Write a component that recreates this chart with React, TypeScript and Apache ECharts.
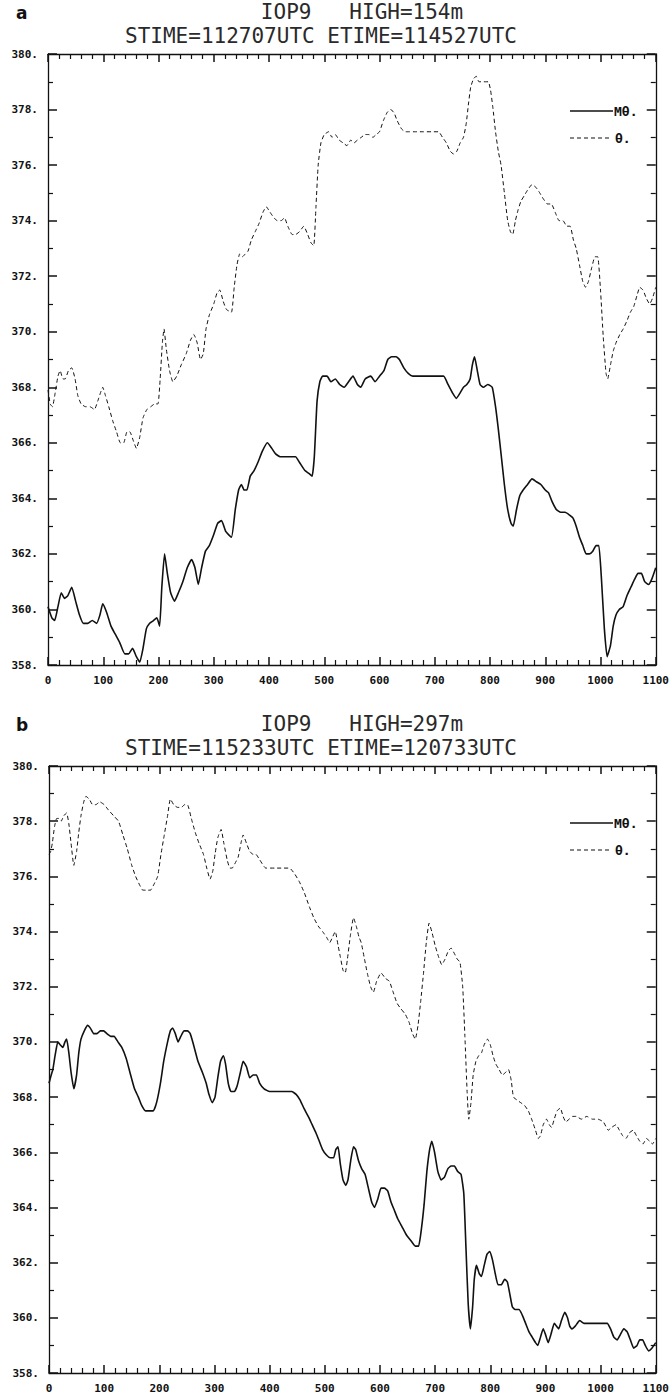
import React, { useEffect, useRef } from "react";
import * as echarts from "echarts";

// Panel a: IOP9 HIGH=154m
const titleA1 = "IOP9   HIGH=154m";
const titleA2 = "STIME=112707UTC ETIME=114527UTC";
// Panel b: IOP9 HIGH=297m
const titleB1 = "IOP9   HIGH=297m";
const titleB2 = "STIME=115233UTC ETIME=120733UTC";

const legendNames = ["Mθ.", "θ."];

const A_M: [number, number][] = [
  [0,360.1],[7,359.7],[12,359.6],[18,360.1],[24,360.6],[30,360.4],[36,360.5],[43,360.8],[50,360.3],[57,359.8],[64,359.5],[72,359.5],[80,359.6],[88,359.5],[94,359.8],[99,360.2],[106,359.9],[114,359.4],[122,359.1],[130,358.8],[139,358.4],[146,358.4],[153,358.6],[160,358.3],[166,358.1],[172,358.6],[178,359.3],[184,359.5],[191,359.6],[197,359.7],[202,359.4],[206,360.8],[211,362.0],[216,361.3],[222,360.6],[229,360.3],[236,360.6],[244,361.0],[252,361.5],[260,361.8],[266,361.5],[272,360.9],[278,361.5],[285,362.1],[292,362.3],[300,362.7],[307,363.1],[314,363.2],[322,362.8],[332,362.6],[339,363.6],[345,364.3],[350,364.5],[355,364.3],[360,364.3],[366,364.8],[373,365.0],[380,365.3],[388,365.7],[397,366.0],[405,365.8],[412,365.6],[420,365.5],[435,365.5],[448,365.5],[455,365.3],[465,365.0],[472,364.9],[478,364.8],[482,365.5],[487,367.5],[492,368.2],[497,368.4],[505,368.4],[512,368.2],[520,368.3],[528,368.1],[536,368.0],[544,368.2],[552,368.4],[560,368.1],[566,368.0],[574,368.3],[584,368.4],[592,368.2],[600,368.4],[608,368.6],[615,369.0],[622,369.1],[630,369.1],[636,369.0],[644,368.7],[652,368.5],[660,368.4],[680,368.4],[700,368.4],[716,368.4],[724,368.1],[732,367.8],[739,367.6],[746,367.8],[752,368.0],[758,368.1],[764,368.3],[768,368.8],[772,369.1],[777,368.6],[782,368.1],[788,368.0],[796,368.1],[804,368.0],[810,367.3],[815,366.5],[820,365.6],[826,364.5],[832,363.6],[838,363.1],[842,363.0],[848,363.6],[854,364.1],[860,364.3],[868,364.5],[876,364.7],[884,364.6],[892,364.5],[900,364.3],[906,364.2],[912,363.9],[920,363.6],[928,363.5],[936,363.5],[944,363.4],[950,363.3],[956,363.0],[962,362.6],[968,362.3],[974,362.0],[980,362.0],[986,362.1],[992,362.3],[997,362.3],[1002,361.0],[1007,359.3],[1012,358.3],[1018,358.7],[1023,359.4],[1028,359.8],[1034,360.0],[1041,360.1],[1048,360.5],[1055,360.8],[1062,361.1],[1068,361.3],[1074,361.3],[1080,361.0],[1087,360.9],[1093,361.1],[1100,361.5]
];

const A_T: [number, number][] = [
  [0,367.9],[4,367.4],[8,367.3],[13,367.8],[18,368.4],[22,368.6],[27,368.3],[31,368.3],[37,368.6],[43,368.7],[49,368.3],[54,367.7],[60,367.4],[68,367.3],[76,367.3],[84,367.2],[90,367.5],[95,367.8],[99,368.0],[104,367.7],[110,367.3],[117,366.8],[124,366.4],[131,366.0],[137,366.0],[143,366.4],[148,366.4],[154,366.1],[160,365.8],[166,366.2],[172,366.9],[179,367.2],[186,367.3],[193,367.4],[199,367.4],[203,368.3],[207,369.6],[210,370.1],[214,369.4],[220,368.6],[226,368.2],[233,368.4],[241,368.8],[250,369.2],[258,369.7],[264,369.9],[270,369.6],[276,369.0],[281,369.2],[286,370.1],[292,370.6],[300,371.0],[306,371.4],[311,371.5],[317,371.1],[323,370.8],[332,370.7],[337,371.6],[342,372.4],[347,372.8],[352,372.7],[357,372.8],[362,372.9],[368,373.3],[375,373.6],[382,373.9],[389,374.3],[395,374.5],[402,374.3],[409,374.1],[415,374.0],[422,374.0],[428,374.1],[434,373.8],[442,373.5],[448,373.5],[455,373.6],[463,373.8],[470,373.5],[476,373.2],[481,373.1],[485,374.5],[489,376.0],[494,376.8],[500,377.1],[508,377.2],[514,377.0],[520,377.1],[527,376.9],[534,376.8],[541,376.7],[548,376.9],[554,376.8],[560,376.9],[567,377.0],[574,377.1],[581,377.1],[588,377.0],[594,377.1],[600,377.2],[607,377.6],[614,377.9],[620,378.0],[626,377.9],[632,377.6],[640,377.3],[647,377.2],[653,377.2],[665,377.2],[680,377.2],[695,377.2],[707,377.2],[714,377.0],[721,376.8],[728,376.5],[734,376.4],[740,376.5],[746,376.8],[752,377.0],[757,377.5],[761,378.2],[765,378.8],[770,379.1],[775,379.2],[780,379.0],[786,379.0],[792,379.0],[797,379.0],[801,378.7],[805,378.1],[810,377.2],[815,376.5],[820,376.0],[826,375.0],[832,374.0],[837,373.6],[841,373.5],[846,374.0],[851,374.4],[856,374.7],[862,374.9],[868,375.1],[876,375.3],[883,375.2],[890,375.0],[896,374.8],[904,374.6],[911,374.6],[918,374.3],[925,374.0],[932,374.0],[939,373.8],[945,373.8],[951,373.3],[956,373.0],[962,372.4],[968,371.8],[973,371.6],[978,371.8],[984,372.3],[990,372.7],[995,372.7],[1000,371.5],[1005,369.8],[1010,368.5],[1013,368.3],[1018,368.8],[1023,369.3],[1028,369.6],[1035,369.9],[1041,370.1],[1048,370.4],[1054,370.7],[1060,370.9],[1066,371.3],[1071,371.6],[1077,371.5],[1083,371.2],[1089,371.0],[1094,371.2],[1100,371.6]
];

const B_M: [number, number][] = [
  [0,368.5],[4,368.8],[7,369.0],[11,369.5],[16,370.0],[20,369.9],[25,369.8],[29,370.0],[32,370.1],[36,369.6],[40,368.9],[45,368.3],[50,368.8],[54,369.6],[58,370.1],[64,370.4],[70,370.6],[75,370.5],[81,370.3],[87,370.3],[93,370.4],[99,370.4],[105,370.3],[112,370.2],[118,370.2],[125,370.0],[132,369.8],[140,369.4],[148,368.8],[155,368.3],[162,368.0],[168,367.7],[175,367.5],[182,367.5],[189,367.5],[195,367.8],[202,368.5],[208,369.3],[215,370.0],[220,370.4],[224,370.5],[229,370.3],[234,370.0],[239,370.2],[245,370.4],[251,370.4],[256,370.3],[262,369.9],[270,369.3],[278,368.9],[285,368.5],[290,368.1],[296,367.8],[301,368.0],[306,368.7],[311,369.3],[316,369.5],[320,369.2],[325,368.5],[330,368.2],[336,368.2],[341,368.4],[347,368.9],[352,369.3],[358,369.1],[364,368.7],[370,368.8],[376,368.8],[382,368.5],[390,368.3],[400,368.2],[415,368.2],[430,368.2],[440,368.2],[448,368.1],[455,367.9],[462,367.6],[470,367.3],[477,367.0],[484,366.7],[490,366.4],[496,366.1],[503,365.9],[510,365.8],[516,365.8],[520,366.1],[524,366.2],[528,365.6],[533,365.0],[538,364.8],[542,365.0],[547,365.7],[552,366.2],[556,366.1],[561,365.7],[567,365.4],[573,365.2],[579,364.7],[585,364.2],[590,364.0],[596,364.3],[602,364.7],[608,364.7],[614,364.6],[620,364.2],[626,363.9],[632,363.6],[640,363.3],[648,363.0],[656,362.8],[664,362.6],[670,362.6],[675,363.2],[680,364.1],[685,365.3],[690,366.1],[694,366.4],[699,366.0],[705,365.3],[711,365.0],[717,365.1],[723,365.4],[729,365.5],[735,365.5],[741,365.3],[747,365.2],[752,364.5],[756,362.5],[760,360.5],[764,359.6],[768,360.4],[771,361.4],[775,361.9],[780,361.6],[784,361.5],[789,361.9],[794,362.3],[799,362.4],[804,362.1],[809,361.6],[814,361.2],[820,361.2],[826,361.4],[831,361.3],[836,360.8],[840,360.4],[845,360.3],[852,360.3],[858,360.1],[864,359.8],[870,359.5],[876,359.3],[882,359.1],[886,359.0],[891,359.3],[896,359.6],[900,359.4],[905,359.1],[910,359.4],[916,359.8],[920,359.7],[924,359.6],[929,359.9],[935,360.2],[940,360.0],[944,359.7],[948,359.6],[954,359.7],[962,359.9],[970,359.8],[985,359.8],[1000,359.8],[1012,359.8],[1018,359.6],[1024,359.3],[1030,359.2],[1036,359.4],[1042,359.6],[1048,359.5],[1054,359.2],[1060,358.9],[1066,359.0],[1071,359.2],[1076,359.2],[1081,359.0],[1087,358.8],[1093,358.9],[1100,359.1]
];

const B_T: [number, number][] = [
  [0,376.8],[3,376.9],[6,377.2],[10,377.8],[14,378.1],[18,378.1],[22,378.0],[27,378.2],[32,378.3],[36,377.9],[40,377.2],[45,376.4],[50,376.9],[54,377.6],[58,378.2],[63,378.7],[67,378.9],[73,378.8],[79,378.6],[85,378.6],[92,378.7],[100,378.6],[108,378.4],[117,378.2],[126,378.0],[134,377.5],[142,377.0],[150,376.4],[157,376.0],[164,375.7],[170,375.5],[177,375.5],[184,375.5],[190,375.7],[197,376.0],[203,376.8],[209,377.5],[215,378.2],[220,378.8],[226,378.6],[233,378.5],[240,378.5],[246,378.6],[251,378.6],[258,378.1],[265,377.6],[272,377.2],[280,376.8],[286,376.3],[292,375.9],[297,376.2],[301,376.8],[306,377.4],[312,377.7],[317,377.2],[323,376.6],[328,376.3],[332,376.3],[338,376.5],[343,376.7],[348,377.2],[352,377.5],[358,377.2],[364,376.9],[370,376.8],[375,376.8],[382,376.6],[393,376.3],[410,376.3],[425,376.3],[436,376.3],[445,376.1],[454,375.8],[463,375.4],[472,374.9],[480,374.5],[488,374.2],[496,374.0],[503,373.8],[509,373.6],[514,373.8],[519,374.0],[524,373.5],[528,373.1],[533,372.6],[537,372.5],[541,373.0],[546,373.8],[552,374.5],[557,374.2],[562,373.8],[566,373.6],[572,373.0],[577,372.5],[583,372.0],[588,371.8],[594,372.2],[602,372.5],[610,372.3],[617,372.2],[624,371.8],[631,371.4],[638,371.2],[646,371.0],[653,370.7],[659,370.3],[664,370.1],[669,370.6],[674,371.5],[679,372.5],[684,373.6],[689,374.3],[694,374.0],[700,373.5],[706,373.1],[712,372.8],[718,373.0],[724,373.3],[729,373.4],[735,373.2],[740,373.0],[745,372.9],[750,372.0],[754,370.2],[758,368.2],[761,367.2],[765,367.8],[769,368.8],[774,369.3],[779,369.5],[784,369.6],[789,369.9],[795,370.1],[800,369.9],[805,369.5],[810,369.2],[816,369.0],[822,368.8],[828,368.9],[833,369.0],[838,368.6],[842,368.0],[848,367.9],[855,367.8],[862,367.7],[869,367.5],[875,367.2],[882,366.8],[887,366.5],[891,366.6],[896,367.0],[902,367.2],[907,367.0],[911,366.9],[916,367.2],[921,367.5],[927,367.6],[932,367.3],[937,367.1],[943,367.2],[949,367.3],[956,367.3],[965,367.2],[975,367.3],[985,367.2],[995,367.2],[1005,367.1],[1014,366.8],[1020,366.9],[1028,367.0],[1034,366.8],[1040,366.6],[1046,366.5],[1052,366.7],[1059,366.8],[1065,366.6],[1071,366.4],[1077,366.3],[1083,366.5],[1089,366.4],[1094,366.3],[1100,366.5]
];

const X_MIN = 0, X_MAX = 1100, X_STEP = 100;
const Y_MIN = 358, Y_MAX = 380, Y_STEP = 2;

const INK = "#111111";
const MONO = "DejaVu Sans Mono";

const panels = [
  { left: 48, top: 54, width: 610, height: 611, t1: titleA1, t2: titleA2, tag: "a", M: A_M, T: A_T },
  { left: 49, top: 766, width: 610, height: 607, t1: titleB1, t2: titleB2, tag: "b", M: B_M, T: B_T },
];

export default function App() {
  const ref = useRef<HTMLDivElement>(null);
  useEffect(() => {
    const chart = echarts.init(ref.current!, null, { renderer: "svg" });
    const grid: any[] = [];
    const xAxis: any[] = [];
    const yAxis: any[] = [];
    const series: any[] = [];
    const graphic: any[] = [];
    panels.forEach((p, i) => {
      grid.push({ left: p.left, top: p.top, width: p.width, height: p.height, containLabel: false });
      const xBase = {
        type: "value", gridIndex: i, min: X_MIN, max: X_MAX, interval: X_STEP,
        splitLine: { show: false },
        axisLine: { show: true, onZero: false, lineStyle: { color: INK, width: 1.3 } },
        axisTick: { show: true, inside: true, length: 8, lineStyle: { color: INK, width: 1.5 } },
        minorTick: { show: true, splitNumber: 5, length: 5, lineStyle: { color: INK, width: 1.2 } },
      };
      xAxis.push({
        ...xBase, position: "bottom",
        axisLabel: {
          show: true, color: INK, fontFamily: MONO, fontSize: 11, fontWeight: "bold", margin: 10,
          showMinLabel: true, showMaxLabel: true, formatter: (v: number) => String(v),
        },
      });
      xAxis.push({ ...xBase, position: "top", axisLabel: { show: false } });
      const yBase = {
        type: "value", gridIndex: i, min: Y_MIN, max: Y_MAX, interval: Y_STEP,
        splitLine: { show: false },
        axisLine: { show: true, onZero: false, lineStyle: { color: INK, width: 1.3 } },
        axisTick: { show: true, inside: true, length: 9, lineStyle: { color: INK, width: 1.5 } },
        minorTick: { show: true, splitNumber: 2, length: 5, lineStyle: { color: INK, width: 1.2 } },
      };
      yAxis.push({
        ...yBase, position: "left",
        axisLabel: { show: true, color: INK, fontFamily: MONO, fontSize: 11, fontWeight: "bold", margin: 10, formatter: (v: number) => `${v}.` },
      });
      yAxis.push({ ...yBase, position: "right", axisLabel: { show: false } });

      series.push({
        name: legendNames[0], type: "line", xAxisIndex: i * 2, yAxisIndex: i * 2,
        data: p.M, showSymbol: false, symbol: "none", smooth: 0.15,
        lineStyle: { color: INK, width: 1.6 },
      });
      series.push({
        name: legendNames[1], type: "line", xAxisIndex: i * 2, yAxisIndex: i * 2,
        data: p.T, showSymbol: false, symbol: "none", smooth: 0.15,
        lineStyle: { color: INK, width: 1, type: [4, 3] },
      });

      graphic.push({
        type: "text", x: 16, y: p.top - 41,
        style: { text: p.tag, font: "bold 17px 'DejaVu Sans'", fill: "#111", textVerticalAlign: "middle" },
      });
      graphic.push({
        type: "text", x: 362, y: p.top - 42,
        style: { text: p.t1, font: `21px ${MONO}`, fill: "#2a2a2a", textAlign: "center", textVerticalAlign: "middle" },
      });
      graphic.push({
        type: "text", x: 321, y: p.top - 18,
        style: { text: p.t2, font: `21px ${MONO}`, fill: "#2a2a2a", textAlign: "center", textVerticalAlign: "middle" },
      });
      const ly1 = p.top + 57, ly2 = p.top + 84;
      graphic.push({ type: "line", shape: { x1: 570, y1: ly1, x2: 613, y2: ly1 }, style: { stroke: INK, lineWidth: 1.4 } });
      graphic.push({ type: "text", x: 614, y: ly1, style: { text: legendNames[0], font: `bold 13px ${MONO}`, fill: INK, textVerticalAlign: "middle" } });
      graphic.push({ type: "line", shape: { x1: 570, y1: ly2, x2: 612, y2: ly2 }, style: { stroke: INK, lineWidth: 1, lineDash: [4, 3] } });
      graphic.push({ type: "text", x: 615, y: ly2, style: { text: legendNames[1], font: `bold 13px ${MONO}`, fill: INK, textVerticalAlign: "middle" } });
    });

    chart.setOption({
      animation: false,
      backgroundColor: "#ffffff",
      grid, xAxis, yAxis, series, graphic,
    });
    return () => chart.dispose();
  }, []);
  return (
    <div
      ref={ref}
      style={{ position: "absolute", left: 0, top: 0, width: 672, height: 1397, background: "#fff" }}
    />
  );
}
